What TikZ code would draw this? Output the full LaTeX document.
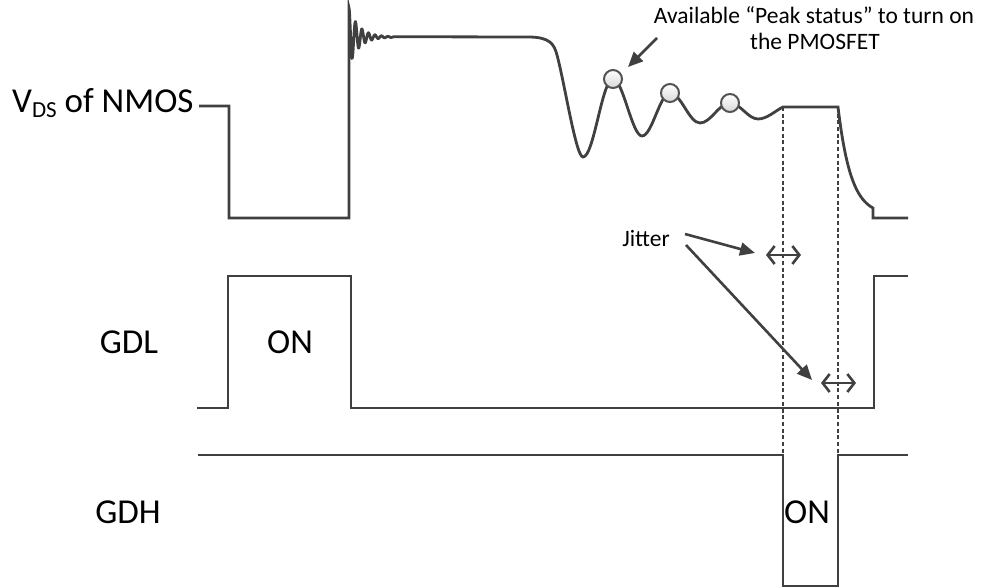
\documentclass[tikz,border=0pt]{standalone}
\usepackage{fontspec}
\setmainfont{Carlito}
\usetikzlibrary{arrows.meta}
\definecolor{wavecol}{HTML}{404040}
\begin{document}
\begin{tikzpicture}[x=1pt,y=-1pt,
  wave/.style={draw=wavecol, line width=2.8pt, line join=miter},
  dots/.style={draw=wavecol, line width=2.4pt, dash pattern=on 4pt off 2.7pt},
  biglbl/.style={font=\fontsize{35}{40}\selectfont, inner sep=0pt},
  smalllbl/.style={font=\fontsize{23.5}{26}\selectfont, inner sep=0pt},
  peak/.style={circle, draw=wavecol!90, line width=2pt, top color=white, bottom color=gray!30, minimum size=18pt, inner sep=0pt},
  ptr/.style={draw=wavecol, line width=2.6pt, -{Triangle[length=15pt,width=13pt]}},
  jit/.style={draw=wavecol, line width=2.6pt, {Straight Barb[length=7pt,width=18pt]}-{Straight Barb[length=7pt,width=18pt]}}]
\useasboundingbox (0,0) rectangle (986,588);

% VDS waveform
\draw[wave] (199,106) -- (229,106) -- (229,218) -- (349,218) -- (349,8)
  -- plot[domain=0:46, samples=400] ({349+\x},{37-29*exp(-\x/10)*cos(55.3846*\x)})
  -- (528,37) .. controls (550,37) and (554,44) .. (557,55)
  .. controls (565,85) and (576,157) .. (583,157)
  .. controls (594,157) and (602,79) .. (613,79)
  .. controls (623,79) and (632,136) .. (642,136)
  .. controls (652,136) and (660,93) .. (670,93)
  .. controls (681,93) and (689,123) .. (700,123)
  .. controls (711,123) and (719,103) .. (730,103)
  .. controls (740,103) and (748,119) .. (758,119)
  .. controls (767,119) and (775,111) .. (783,107)
  -- (838,107)
  -- plot[domain=0:35, samples=60] ({838+\x},{107+101*(1-exp(-\x/13))/(1-exp(-35/13))})
  -- (873,218) -- (908,218);

% GDL waveform
\draw[wave] (197,408) -- (228,408) -- (228,276) -- (351,276) -- (351,408) -- (874,408) -- (874,276) -- (908,276);
% GDH waveform
\draw[wave] (198,455) -- (783,455) -- (783,586) -- (838,586) -- (838,455) -- (908,455);

% dotted marker lines
\draw[dots] (783,107) -- (783,455);
\draw[dots] (838,107) -- (838,455);

% peak markers
\node[peak] (p1) at (613,79) {};
\node[peak] (p2) at (670,93) {};
\node[peak] (p3) at (730,103) {};

% labels
\node[biglbl, anchor=base west] (vds) at (12,113) {V\raisebox{-5pt}{\fontsize{23}{23}\selectfont DS} of NMOS};
\node[biglbl, anchor=base] (gdl) at (129,353) {GDL};
\node[biglbl, anchor=base] (gdh) at (128,523) {GDH};
\node[biglbl, anchor=base] (on1) at (290,353) {ON};
\node[biglbl, anchor=base] (on2) at (807,523) {ON};

\node[smalllbl, anchor=base] (peak1) at (814,24) {Available “Peak status” to turn on};
\node[smalllbl, anchor=base] (peak2) at (815,50) {the PMOSFET};
\coordinate (a1s) at (657,38);
\coordinate (a1e) at (628,67);
\draw[ptr] (a1s) -- (a1e);

\node[smalllbl, anchor=base] (jtxt) at (646,247) {Jitter};
\coordinate (j1s) at (685,234);
\coordinate (j1e) at (755,253);
\coordinate (j2s) at (686,245);
\coordinate (j2e) at (812,380);
\draw[ptr] (j1s) -- (j1e);
\draw[ptr] (j2s) -- (j2e);

\coordinate (d1a) at (766,255);
\coordinate (d1b) at (801,255);
\coordinate (d2a) at (821,383);
\coordinate (d2b) at (856,383);
\draw[jit] (d1a) -- (d1b);
\draw[jit] (d2a) -- (d2b);
\end{tikzpicture}
\end{document}
